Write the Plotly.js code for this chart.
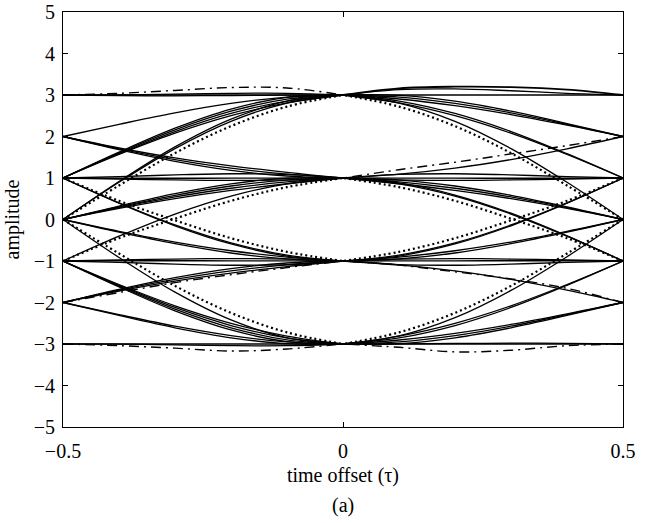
<!DOCTYPE html>
<html>
<head>
<meta charset="utf-8">
<script src="https://cdn.plot.ly/plotly-3.0.1.min.js"></script>
<style>
  html, body { margin: 0; padding: 0; background: #fff; }
  #eye { width: 652px; height: 523px; }
</style>
</head>
<body>
<div id="eye"></div>
<script>
// Sample instants for each half symbol period
const tLeft  = [-0.5, -0.4, -0.3, -0.2, -0.1, 0];
const tRight = [0.5, 0.4, 0.3, 0.2, 0.1, 0];

// Left half: trajectories arriving at the sampling instant (t = 0)
const leftTo3 = [
  [3, 3, 3, 3, 3, 3],
  [3, 2.983, 2.980, 2.987, 2.997, 3],
  [3, 3.002, 3.021, 3.040, 3.041, 3],
  [2, 2.293, 2.570, 2.797, 2.948, 3],
  [1, 1.566, 2.079, 2.502, 2.811, 3],
  [1, 1.585, 2.120, 2.555, 2.855, 3],
  [1, 1.605, 2.160, 2.609, 2.899, 3],
  [1, 1.624, 2.201, 2.662, 2.943, 3],
  [0, 0.915, 1.750, 2.419, 2.850, 3],
  [0, 0.896, 1.709, 2.366, 2.806, 3]
];
const leftTo1 = [
  [2, 1.684, 1.403, 1.185, 1.048, 1],
  [2, 1.703, 1.444, 1.238, 1.092, 1],
  [2, 1.723, 1.484, 1.292, 1.136, 1],
  [1, 0.975, 0.953, 0.942, 0.955, 1],
  [1, 1.033, 1.075, 1.102, 1.087, 1],
  [1, 0.994, 0.994, 0.995, 0.999, 1],
  [0, 0.266, 0.502, 0.700, 0.862, 1],
  [0, 0.285, 0.543, 0.753, 0.906, 1],
  [0, 0.305, 0.583, 0.807, 0.950, 1],
  [0, 0.324, 0.624, 0.860, 0.994, 1],
  [-1, -0.403, 0.132, 0.564, 0.858, 1]
];
const leftToM1 = [
  [-2, -1.684, -1.403, -1.185, -1.048, -1],
  [-2, -1.703, -1.444, -1.238, -1.092, -1],
  [-2, -1.723, -1.484, -1.292, -1.136, -1],
  [-1, -0.975, -0.953, -0.942, -0.955, -1],
  [-1, -1.033, -1.075, -1.102, -1.087, -1],
  [-1, -0.994, -0.994, -0.995, -0.999, -1],
  [0, -0.285, -0.543, -0.753, -0.906, -1],
  [0, -0.305, -0.583, -0.807, -0.950, -1],
  [1, 0.403, -0.132, -0.564, -0.858, -1],
  [1, 0.393, -0.152, -0.590, -0.880, -1]
];
const leftToM3 = [
  [0, -0.915, -1.750, -2.419, -2.850, -3],
  [-1, -1.566, -2.079, -2.502, -2.811, -3],
  [-1, -1.585, -2.120, -2.555, -2.855, -3],
  [-1, -1.605, -2.160, -2.609, -2.899, -3],
  [-1, -1.624, -2.201, -2.662, -2.943, -3],
  [-2, -2.293, -2.570, -2.797, -2.948, -3],
  [-2, -2.313, -2.610, -2.851, -2.992, -3],
  [-3, -3, -3, -3, -3, -3],
  [-3, -3.002, -3.021, -3.040, -3.041, -3]
];

// Right half: trajectories leaving the sampling instant (listed from t = 0.5 back to 0)
const rightFrom3 = [
  [3, 3, 3, 3, 3, 3],
  [3, 3.041, 3.102, 3.147, 3.129, 3],
  [2, 2.293, 2.570, 2.797, 2.948, 3],
  [2, 2.274, 2.529, 2.744, 2.904, 3],
  [2, 2.313, 2.610, 2.851, 2.992, 3],
  [1, 1.585, 2.120, 2.555, 2.855, 3],
  [1, 1.566, 2.079, 2.502, 2.811, 3],
  [0, 0.896, 1.709, 2.366, 2.806, 3]
];
const rightFrom1 = [
  [2, 1.703, 1.444, 1.238, 1.092, 1],
  [1, 0.975, 0.953, 0.942, 0.955, 1],
  [1, 1.033, 1.075, 1.102, 1.087, 1],
  [1, 0.994, 0.994, 0.995, 0.999, 1],
  [0, 0.305, 0.583, 0.807, 0.950, 1],
  [0, 0.285, 0.543, 0.753, 0.906, 1],
  [0, 0.266, 0.502, 0.700, 0.862, 1],
  [-1, -0.403, 0.132, 0.564, 0.858, 1],
  [-1, -0.393, 0.152, 0.590, 0.880, 1]
];
const rightFromM1 = [
  [1, 0.403, -0.132, -0.564, -0.858, -1],
  [1, 0.393, -0.152, -0.590, -0.880, -1],
  [0, -0.305, -0.583, -0.807, -0.950, -1],
  [0, -0.285, -0.543, -0.753, -0.906, -1],
  [-1, -0.975, -0.953, -0.942, -0.955, -1],
  [-1, -1.033, -1.075, -1.102, -1.087, -1],
  [-1, -0.994, -0.994, -0.995, -0.999, -1],
  [-2, -1.703, -1.444, -1.238, -1.092, -1]
];
const rightFromM3 = [
  [0, -0.896, -1.709, -2.366, -2.806, -3],
  [-1, -1.585, -2.120, -2.555, -2.855, -3],
  [-1, -1.566, -2.079, -2.502, -2.811, -3],
  [-2, -2.293, -2.570, -2.797, -2.948, -3],
  [-2, -2.274, -2.529, -2.744, -2.904, -3],
  [-2, -2.313, -2.610, -2.851, -2.992, -3],
  [-3, -3, -3, -3, -3, -3],
  [-3, -2.983, -2.980, -2.987, -2.997, -3]
];

// Dotted eye boundaries (same paths on both halves)
const dottedPaths = [
  [0, 0.82, 1.60, 2.25, 2.72, 3],
  [0, -0.82, -1.60, -2.25, -2.72, -3],
  [-1, -0.45, 0.02, 0.45, 0.78, 1],
  [1, 0.45, -0.02, -0.45, -0.78, -1]
];

// Dash-dot trajectories
const dashLeftTop    = [3.0, 3.04, 3.11, 3.18, 3.17, 3.0];
const dashLeftBottom = [-3.0, -3.04, -3.10, -3.17, -3.12, -3.0];
const dashLeftLow    = [-2.0, -1.76, -1.52, -1.33, -1.16, -1.0];
const dashRightBottom = [-3.0, -3.04, -3.15, -3.19, -3.08, -3.0];
const dashRightUp     = [2.0, 1.78, 1.58, 1.38, 1.20, 1.0];
const dashRightDown   = [-2.0, -1.66, -1.43, -1.26, -1.10, -1.0];
const bulgeRightTop   = [3.0, 3.13, 3.19, 3.20, 3.16, 3.0];

// Axis ticks
const xTickVals = [-0.5, 0, 0.5];
const xTickText = ['\u22120.5', '0', '0.5'];
const yTickVals = [-5, -4, -3, -2, -1, 0, 1, 2, 3, 4, 5];

const traces = [];
function addCurves(tx, groups, line) {
  groups.forEach(g => g.forEach(y => traces.push({
    type: 'scatter', mode: 'lines', x: tx, y: y, hoverinfo: 'skip',
    showlegend: false,
    line: Object.assign({ color: '#000', shape: 'spline', smoothing: 1 }, line)
  })));
}
const solid = { width: 1.3 };
const dotted = { width: 2.2, dash: '2px,3px' };
const dashdot = { width: 1.4, dash: '10px,5px,2px,5px' };

addCurves(tLeft, [leftTo3, leftTo1, leftToM1, leftToM3], solid);
addCurves(tRight, [rightFrom3, rightFrom1, rightFromM1, rightFromM3], solid);
addCurves(tLeft, [dottedPaths], dotted);
addCurves(tRight, [dottedPaths], dotted);
addCurves(tLeft, [[dashLeftTop, dashLeftBottom, dashLeftLow]], dashdot);
addCurves(tRight, [[dashRightBottom, dashRightUp, dashRightDown]], dashdot);
addCurves(tRight, [[bulgeRightTop]], { width: 1.8 });

const serif = 'Liberation Serif, Times New Roman, serif';
const layout = {
  width: 652, height: 523,
  margin: { l: 63, r: 29, t: 12, b: 96 },
  paper_bgcolor: '#fff', plot_bgcolor: '#fff',
  font: { family: serif, size: 20, color: '#000' },
  showlegend: false,
  xaxis: {
    range: [-0.5, 0.5], tickvals: xTickVals, ticktext: xTickText,
    ticks: 'inside', ticklen: 5, tickwidth: 1, tickcolor: '#000',
    showline: true, linecolor: '#000', linewidth: 1, mirror: 'ticks',
    showgrid: false, zeroline: false, ticklabelstandoff: 6,
    tickfont: { family: serif, size: 20 },
    title: { text: 'time offset (\u03c4)', font: { family: serif, size: 20 }, standoff: 6 }
  },
  yaxis: {
    range: [-5, 5], tickvals: yTickVals,
    ticks: 'inside', ticklen: 5, tickwidth: 1, tickcolor: '#000',
    showline: true, linecolor: '#000', linewidth: 1, mirror: 'ticks',
    showgrid: false, zeroline: false, ticklabelstandoff: 3,
    tickfont: { family: serif, size: 20 },
    title: { text: 'amplitude', font: { family: serif, size: 20 }, standoff: 8 }
  },
  annotations: [{
    text: '(a)', xref: 'paper', yref: 'paper', x: 0.5, y: -0.19,
    xanchor: 'center', yanchor: 'middle', showarrow: false,
    font: { family: serif, size: 20 }
  }]
};

Plotly.newPlot('eye', traces, layout, { staticPlot: true, displayModeBar: false });
</script>
</body>
</html>
